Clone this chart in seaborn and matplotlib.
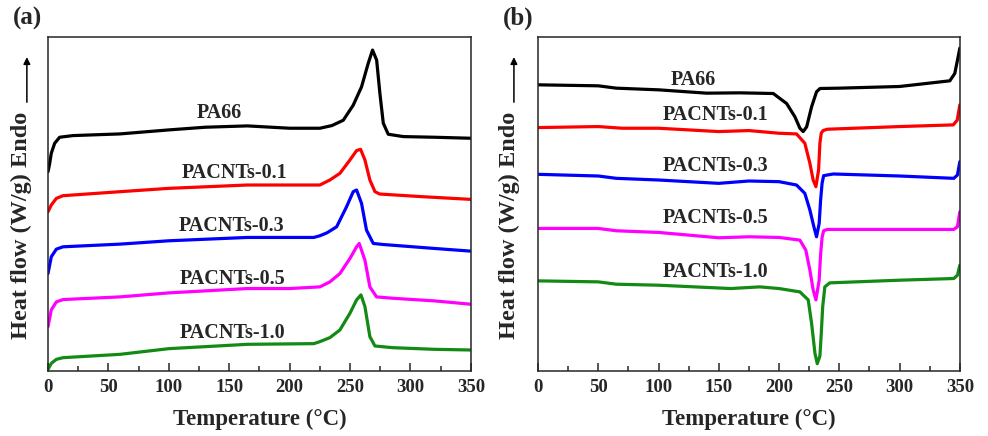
import matplotlib
matplotlib.use("Agg")
import matplotlib.pyplot as plt
import seaborn as sns
import pandas as pd
from matplotlib.ticker import MultipleLocator

SAMPLES = ["PA66", "PACNTs-0.1", "PACNTs-0.3", "PACNTs-0.5", "PACNTs-1.0"]
COLORS = ["#000000", "#ff0000", "#0000ff", "#ff00ff", "#138a13"]

# (a) heating scans, heat flow in arbitrary units
a_temp = {
    "PA66":       [0, 1.3, 2.7, 5.5, 9.6, 20.7, 59.6, 100, 130, 165, 200, 225, 235, 244.4, 252.6, 259.5, 265, 268.6, 272, 274.7, 277.5, 281.6, 294, 320, 350],
    "PACNTs-0.1": [0, 2.7, 6.9, 12.4, 59.6, 100, 165, 200, 225, 233.3, 241.6, 249.9, 255.4, 258.7, 262.3, 266.4, 270.6, 274.5, 310, 350],
    "PACNTs-0.3": [0, 2.7, 6.9, 12.4, 59.6, 100, 165, 220, 225, 231, 238.9, 247.1, 252.6, 255.4, 259.5, 263.6, 269.2, 277, 320, 350],
    "PACNTs-0.5": [0, 2.7, 6.9, 12.4, 59.6, 100, 165, 200, 225, 233.3, 241.6, 249.9, 255.4, 257.6, 262.3, 266.4, 271.9, 285, 320, 350],
    "PACNTs-1.0": [0, 2.7, 6.9, 12.4, 59.6, 100, 165, 220, 225, 233.3, 241.6, 249.9, 255.4, 259, 262.3, 266.4, 270.6, 285, 320, 350],
}
a_flow = {
    "PA66":       [59.7, 62.0, 65.2, 68.2, 70.0, 70.5, 71.0, 72.2, 73.0, 73.4, 72.7, 72.7, 73.5, 75.1, 79.6, 85.1, 92.1, 96.1, 93.1, 83.1, 74.2, 70.9, 70.2, 70.0, 69.7],
    "PACNTs-0.1": [47.7, 49.7, 51.7, 52.5, 53.7, 54.7, 55.7, 55.7, 55.7, 57.2, 59.2, 63.2, 66.0, 66.4, 63.2, 57.2, 53.7, 53.0, 52.2, 51.4],
    "PACNTs-0.3": [29.2, 34.2, 36.5, 37.2, 38.0, 39.0, 40.0, 40.0, 40.5, 41.4, 43.2, 49.2, 53.7, 54.2, 50.2, 42.2, 38.2, 37.9, 36.7, 35.9],
    "PACNTs-0.5": [13.3, 18.3, 20.7, 21.4, 22.2, 23.4, 24.7, 24.7, 25.2, 26.7, 29.2, 33.7, 37.2, 38.2, 33.2, 25.2, 22.2, 21.8, 21.0, 20.0],
    "PACNTs-1.0": [0.5, 2.3, 3.5, 4.0, 5.0, 6.7, 8.0, 8.2, 8.8, 10.0, 12.3, 17.3, 21.3, 22.8, 19.3, 10.3, 7.5, 7.0, 6.5, 6.3],
}

# (b) cooling scans
b_temp = {
    "PA66":       [0, 50, 65, 100, 140, 167.5, 195.2, 206.3, 213.2, 217.3, 220, 222.9, 227, 231.1, 234, 250, 300, 341.7, 345.8, 348.6, 350],
    "PACNTs-0.1": [0, 50, 70, 100, 150, 175, 200, 214.5, 221.4, 225.6, 228.3, 230.6, 232.8, 233.9, 235, 236.5, 240, 300, 344.5, 347.8, 350],
    "PACNTs-0.3": [0, 50, 65, 100, 150, 175, 200, 214.5, 221.4, 225.6, 228.9, 231.1, 233.3, 234.5, 235.7, 237, 245, 300, 345, 348, 350],
    "PACNTs-0.5": [0, 50, 65, 100, 150, 175, 200, 217.3, 222.2, 225.6, 228.3, 230.6, 233.3, 234.5, 235.7, 237, 240, 300, 345, 348, 350],
    "PACNTs-1.0": [0, 50, 65, 100, 160, 184, 200, 217.3, 224.2, 227, 229.8, 231.7, 233.9, 235, 236.2, 238, 242, 300, 345, 348, 350],
}
b_flow = {
    "PA66":       [85.7, 85.4, 84.7, 84.2, 83.2, 83.3, 83.1, 80.1, 76.1, 72.7, 71.7, 73.1, 79.1, 83.6, 84.6, 84.7, 85.2, 86.9, 89.1, 94.1, 96.7],
    "PACNTs-0.1": [72.9, 73.2, 72.7, 72.7, 71.7, 72.0, 71.2, 71.0, 68.2, 62.2, 57.2, 55.2, 60.2, 68.2, 71.2, 72.0, 72.4, 73.2, 73.7, 75.1, 79.7],
    "PACNTs-0.3": [58.9, 58.4, 57.7, 57.2, 56.2, 56.9, 56.7, 55.7, 53.2, 48.2, 43.2, 40.2, 44.2, 51.2, 56.2, 58.5, 59.0, 58.4, 57.7, 58.7, 62.7],
    "PACNTs-0.5": [42.7, 42.7, 42.0, 41.5, 39.9, 40.2, 40.0, 39.2, 36.2, 30.2, 24.3, 21.3, 27.2, 35.0, 40.0, 42.0, 42.4, 42.4, 42.4, 43.2, 47.7],
    "PACNTs-1.0": [27.0, 26.7, 26.0, 25.7, 24.7, 25.2, 24.7, 23.7, 21.3, 14.3, 5.3, 2.2, 4.5, 11.0, 19.2, 25.2, 26.4, 27.2, 27.7, 28.7, 31.7],
}

# label anchors (temperature, heat flow)
a_labels = {"PA66": (142, 77.4), "PACNTs-0.1": (154, 59.2), "PACNTs-0.3": (152, 43.4),
            "PACNTs-0.5": (153, 27.6), "PACNTs-1.0": (153, 11.4)}
b_labels = {"PA66": (129, 87.2), "PACNTs-0.1": (147, 76.7), "PACNTs-0.3": (147, 61.4),
            "PACNTs-0.5": (147, 45.7), "PACNTs-1.0": (147, 29.7)}


def to_long(temps, flows):
    rows = []
    for s in SAMPLES:
        for t, v in zip(temps[s], flows[s]):
            rows.append({"sample": s, "T": t, "flow": v})
    return pd.DataFrame(rows)


sns.set_style("ticks")
plt.rcParams["font.family"] = ["Liberation Serif", "DejaVu Serif"]
plt.rcParams["font.weight"] = "bold"

fig = plt.figure(figsize=(9.88, 4.36), dpi=100)
ax_a = fig.add_axes([0.0486, 0.149, 0.428, 0.766])
ax_b = fig.add_axes([0.5445, 0.149, 0.427, 0.766])


def draw_panel(ax, temps, flows, labels, tag, lab_x, arrow_x):
    df = to_long(temps, flows)
    sns.lineplot(data=df, x="T", y="flow", hue="sample", hue_order=SAMPLES,
                 palette=COLORS, estimator=None, sort=False, lw=2.3,
                 legend=False, ax=ax)
    for line in ax.get_lines():
        line.set_solid_joinstyle("round")
        line.set_solid_capstyle("round")
    for s in SAMPLES:
        x, y = labels[s]
        ax.text(x, y, s, ha="center", va="center", fontsize=14.5, fontweight="bold")
    ax.set_xlim(0, 350)
    ax.set_ylim(0, 100)
    ax.xaxis.set_major_locator(MultipleLocator(50))
    ax.xaxis.set_minor_locator(MultipleLocator(25))
    ax.tick_params(axis="x", which="major", direction="in", length=6, width=1.1,
                   labelsize=13.5, pad=6)
    ax.tick_params(axis="x", which="minor", direction="in", length=3.5, width=1.1)
    ax.set_yticks([])
    for lbl in ax.get_xticklabels():
        lbl.set_fontweight("bold")
    for sp in ax.spines.values():
        sp.set_linewidth(1.1)
    ax.set_xlabel("Temperature (\u00b0C)", fontsize=16.5, fontweight="bold", labelpad=9)
    ax.set_ylabel("Heat flow (W/g) Endo", fontsize=17.5, fontweight="bold")
    ax.yaxis.set_label_coords(lab_x, 0.437)
    ax.annotate("", xy=(arrow_x, 0.94), xytext=(arrow_x, 0.805), xycoords="axes fraction",
                arrowprops=dict(arrowstyle="-|>", color="black", lw=1.1,
                                mutation_scale=10, shrinkA=0, shrinkB=0),
                annotation_clip=False)
    ax.text(-0.083, 1.02, tag, transform=ax.transAxes, fontsize=18,
            fontweight="bold", ha="left", va="bottom")


draw_panel(ax_a, a_temp, a_flow, a_labels, "(a)", -0.038, -0.05)
draw_panel(ax_b, b_temp, b_flow, b_labels, "(b)", -0.042, -0.057)

fig.savefig("out.png", dpi=100)
